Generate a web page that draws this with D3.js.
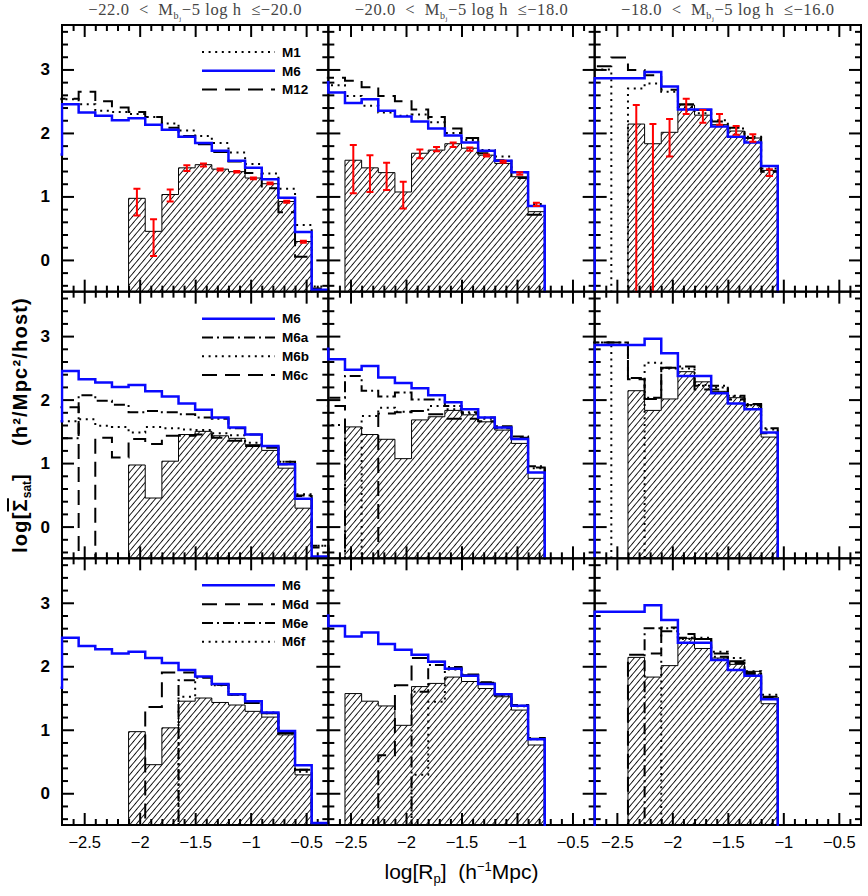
<!DOCTYPE html>
<html>
<head>
<meta charset="utf-8">
<script src="https://cdn.jsdelivr.net/npm/d3@7"></script>
<style>
  body { margin: 0; background: #fff; }
  text { font-family: "Liberation Sans", Arial, sans-serif; }
</style>
</head>
<body>
<div id="chart"></div>
<script>
const N = null;

// bin edges in log(Rp); first bin lies just left of the plotted range
const binEdges = [-2.85, -2.7, -2.55, -2.4, -2.25, -2.1, -1.95, -1.8, -1.65, -1.5,
  -1.35, -1.2, -1.05, -0.9, -0.75, -0.6, -0.45, -0.3];

const titleLo = ["\u221222.0", "\u221220.0", "\u221218.0"];
const titleHi = ["\u221220.0", "\u221218.0", "\u221216.0"];
const xMajor = [-2.5, -2, -1.5, -1, -0.5];
const yMajor = [0, 1, 2, 3];

// observed (hatched) histogram, one array per magnitude column
const obs = [
  [N, N, N, N, N, 0.97, 0.45, 1.03, 1.45, 1.50, 1.43, 1.39, 1.29, 1.20, 0.92, 0.29, N],
  [N, N, 1.57, 1.45, 1.375, 1.07, 1.68, 1.73, 1.83, 1.76, 1.65, 1.52, 1.31, 0.76, N, N, N],
  [N, N, N, 2.14, 1.83, 2.01, 2.44, 2.28, 2.13, 2.03, 1.92, 1.41, N, N, N, N, N]
];
const errLo = [
  [N, N, N, N, N, 0.70, 0.06, 0.92, 1.40, 1.47, 1.41, 1.375, 1.27, 1.19, 0.90, 0.27, N],
  [N, N, 1.05, 1.07, 1.10, 0.81, 1.60, 1.71, 1.78, 1.72, 1.63, 1.53, 1.34, 0.85, N, N, N],
  [N, N, N, -1, -1, 1.63, 2.30, 2.16, 2.13, 1.97, 1.86, 1.32, N, N, N, N, N]
];
const errHi = [
  [N, N, N, N, N, 1.12, 0.64, 1.11, 1.49, 1.52, 1.44, 1.40, 1.30, 1.22, 0.93, 0.30, N],
  [N, N, 1.81, 1.65, 1.53, 1.23, 1.74, 1.78, 1.85, 1.77, 1.66, 1.56, 1.38, 0.90, N, N, N],
  [N, N, N, 2.44, 2.14, 2.22, 2.54, 2.36, 2.30, 2.11, 1.98, 1.43, N, N, N, N, N]
];

// models
const m6 = [
  [1.66, 2.45, 2.32, 2.27, 2.20, 2.23, 2.13, 2.05, 1.94, 1.84, 1.72, 1.56, 1.45, 1.27, 0.98, 0.44, -0.47],
  [2.80, 2.635, 2.47, 2.53, 2.35, 2.26, 2.18, 2.07, 1.96, 1.85, 1.72, 1.56, 1.38, 0.85, N, N, N],
  [N, 2.86, 2.86, 2.86, 2.96, 2.73, 2.37, 2.37, 2.10, 1.94, 1.85, 1.48, N, N, N, N, N]
];
const m1 = [
  [2.53, 2.53, 2.45, 2.35, 2.33, 2.30, 2.25, 2.15, 2.04, 1.95, 1.84, 1.69, 1.51, 1.36, 1.12, 0.55, -0.42],
  [2.75, 2.75, 2.58, 2.43, 2.32, 2.27, 2.29, 2.17, 2.00, 1.89, 1.73, 1.63, 1.38, 0.88, N, N, N],
  [3.00, 3.00, N, 2.70, 2.78, 2.65, 2.41, 2.31, 2.20, 2.07, 1.94, 1.44, N, N, N, N, N]
];
const m12 = [
  [2.54, 2.54, 2.65, 2.50, 2.40, 2.33, 2.25, 2.08, 1.95, 1.82, 1.70, 1.55, 1.37, 1.13, 0.75, 0.05, -0.45],
  [2.87, 2.87, 2.82, 2.72, 2.58, 2.50, 2.37, 2.25, 2.07, 1.92, 1.68, 1.57, 1.29, 0.71, N, N, N],
  [3.05, 3.05, 3.19, 2.99, 2.91, 2.68, 2.45, 2.36, 2.18, 2.08, 1.92, 1.39, N, N, N, N, N]
];
const m6a = [
  [1.39, 1.39, 2.07, 1.98, 1.92, 1.80, 1.82, 1.80, 1.77, 1.72, 1.70, 1.55, 1.45, 1.27, 1.02, 0.49, -0.30],
  [2.03, 2.03, 2.37, 2.14, 2.05, 2.11, 2.00, 2.00, 1.90, 1.80, 1.72, 1.58, 1.42, 0.95, N, N, N],
  [2.90, 2.90, 2.90, 2.34, 2.03, 2.50, 2.52, 2.22, 2.22, 2.06, 1.93, 1.55, N, N, N, N, N]
];
const m6b = [
  [1.66, 1.66, 1.69, 1.59, 1.57, 1.48, 1.57, 1.55, 1.53, 1.52, 1.47, 1.44, 1.32, 1.27, 1.02, 0.51, -0.30],
  [1.60, 1.60, N, 1.74, 1.87, 1.81, 1.82, 1.90, 1.85, 1.78, 1.70, 1.56, 1.38, 0.92, N, N, N],
  [2.90, 2.90, N, N, 2.58, 2.49, 2.49, 2.23, 2.19, 2.05, 1.91, 1.53, N, N, N, N, N]
];
const m6c = [
  [1.88, 1.88, N, 1.40, 1.09, 1.38, 1.30, 1.43, 1.43, 1.45, 1.40, 1.35, 1.27, 1.24, 0.98, 0.48, -0.33],
  [1.90, 1.90, N, N, 1.78, 1.80, 1.82, 1.77, 1.70, 1.70, 1.66, 1.55, 1.40, 0.93, N, N, N],
  [2.90, 2.90, 2.90, 2.32, 2.01, 2.50, 2.37, 2.16, 2.16, 2.00, 1.91, 1.47, N, N, N, N, N]
];
const m6d = [
  [N, N, N, N, N, N, 1.36, 1.90, 1.90, 1.83, 1.71, 1.56, 1.42, 1.26, 0.95, 0.37, N],
  [N, N, N, N, 0.60, 1.70, 2.13, 2.07, 1.97, 1.86, 1.74, 1.55, 1.39, 0.87, N, N, N],
  [N, N, N, 2.18, 2.20, 2.61, 2.51, 2.43, 2.20, 2.08, 1.90, 1.52, N, N, N, N, N]
];
const m6e = [
  [N, N, N, N, N, N, N, N, 1.78, 1.82, 1.71, 1.55, 1.42, 1.26, 0.95, 0.37, N],
  [N, N, N, N, N, N, 1.60, 2.02, 1.99, 1.87, 1.75, 1.56, 1.38, 0.86, N, N, N],
  [N, N, N, N, 2.60, 2.55, 2.45, 2.43, 2.15, 2.05, 1.88, 1.50, N, N, N, N, N]
];
const m6f = [
  [N, N, N, N, N, N, N, N, 1.52, 1.83, 1.70, 1.55, 1.44, 1.27, 0.94, 0.34, N],
  [N, N, N, N, N, N, 0.29, 1.44, 1.95, 1.86, 1.73, 1.54, 1.37, 0.85, N, N, N],
  [N, N, N, N, N, 2.60, 2.43, 2.45, 2.23, 2.13, 1.92, 1.55, N, N, N, N, N]
];

// legend order for each row of panels
const rowSeries = [
  [["M1", "dot", m1], ["M6", "blue", m6], ["M12", "dash", m12]],
  [["M6", "blue", m6], ["M6a", "dashdot", m6a], ["M6b", "dot", m6b], ["M6c", "dash", m6c]],
  [["M6", "blue", m6], ["M6d", "dash", m6d], ["M6e", "dashdot", m6e], ["M6f", "dot", m6f]]
];

const lineStyle = {
  blue:    { stroke: "#0a0aff", width: 2.5, dash: null },
  dot:     { stroke: "#000", width: 2, dash: "2,4.6" },
  dash:    { stroke: "#000", width: 2, dash: "15,8" },
  dashdot: { stroke: "#000", width: 2, dash: "11,4,2,4" }
};

const W = 868, H = 896;
const margin = { top: 25, right: 7, bottom: 71, left: 62 };
const pw = (W - margin.left - margin.right) / 3,
  ph = (H - margin.top - margin.bottom) / 3;

const x = d3.scaleLinear().domain([-2.7, -0.3]).range([0, pw]);
const y = d3.scaleLinear().domain([-0.5, 3.7]).range([ph, 0]);
const floorVal = -1;

const xMinor = x.ticks(24).filter(d => d > -2.69 && d < -0.31 && Math.abs(d * 2 - Math.round(d * 2)) > 1e-6);
const yMinor = y.ticks(21).filter(d => Math.abs(d - Math.round(d)) > 1e-6);

const svg = d3.select("#chart").append("svg")
  .attr("width", W).attr("height", H);

const defs = svg.append("defs");
defs.append("pattern")
  .attr("id", "hatch")
  .attr("patternUnits", "userSpaceOnUse")
  .attr("width", 4.6).attr("height", 10)
  .attr("patternTransform", "rotate(40)")
  .append("line")
  .attr("x1", 2.3).attr("y1", -1).attr("x2", 2.3).attr("y2", 11)
  .attr("stroke", "#000").attr("stroke-width", 0.9);
defs.append("clipPath").attr("id", "clip")
  .append("rect")
  .attr("x", -1.5).attr("y", -1).attr("width", pw + 3).attr("height", ph + 2);

function steps(vals) {
  const pts = [[binEdges[0], floorVal]];
  vals.forEach((v, i) => {
    const yv = v == null ? floorVal : v;
    pts.push([binEdges[i], yv], [binEdges[i + 1], yv]);
  });
  pts.push([binEdges[binEdges.length - 1], floorVal]);
  return pts;
}
const line = d3.line().x(d => x(d[0])).y(d => y(d[1]));

function ticks(g, axis, size, vals, pos) {
  const a = g.append("g")
    .attr("transform", pos)
    .call(axis.tickValues(vals).tickSize(-size).tickFormat(""));
  a.select(".domain").remove();
  a.selectAll("line").attr("stroke", "#000").attr("stroke-width", 2);
}

for (let r = 0; r < 3; r++) {
  for (let c = 0; c < 3; c++) {
    const g = svg.append("g")
      .attr("transform", "translate(" + (margin.left + c * pw) + "," + (margin.top + r * ph) + ")");

    // frame and inward ticks on all four sides
    g.append("rect")
      .attr("width", pw).attr("height", ph)
      .attr("fill", "none").attr("stroke", "#000").attr("stroke-width", 2);
    ticks(g, d3.axisBottom(x), 6, xMinor, "translate(0," + ph + ")");
    ticks(g, d3.axisBottom(x), 12, xMajor, "translate(0," + ph + ")");
    ticks(g, d3.axisTop(x), 6, xMinor, "translate(0,0)");
    ticks(g, d3.axisTop(x), 12, xMajor, "translate(0,0)");
    ticks(g, d3.axisLeft(y), 6, yMinor, "translate(0,0)");
    ticks(g, d3.axisLeft(y), 12, yMajor, "translate(0,0)");
    ticks(g, d3.axisRight(y), 6, yMinor, "translate(" + pw + ",0)");
    ticks(g, d3.axisRight(y), 12, yMajor, "translate(" + pw + ",0)");

    if (r === 2) {
      const ax = g.append("g")
        .attr("transform", "translate(0," + ph + ")")
        .call(d3.axisBottom(x).tickValues(xMajor).tickSize(0).tickPadding(11)
          .tickFormat(d3.format("~g")));
      ax.select(".domain").remove();
      ax.selectAll("text").attr("font-size", 16.5).attr("fill", "#000")
        .style("font-family", "Liberation Sans, sans-serif");
    }
    if (c === 0) {
      const ay = g.append("g")
        .call(d3.axisLeft(y).tickValues(yMajor).tickSize(0).tickPadding(12)
          .tickFormat(d3.format("d")));
      ay.select(".domain").remove();
      ay.selectAll("text").attr("font-size", 17).attr("font-weight", "bold").attr("fill", "#000");
    }

    const plot = g.append("g").attr("clip-path", "url(#clip)");

    // observed histogram
    plot.append("path")
      .attr("d", line(steps(obs[c])) + "Z")
      .attr("fill", "url(#hatch)")
      .attr("stroke", "#000").attr("stroke-width", 1);

    // model histograms: black ones first, blue M6 on top
    const series = rowSeries[r].slice().sort((a, b) => (a[1] === "blue") - (b[1] === "blue"));
    series.forEach(s => {
      const st = lineStyle[s[1]];
      plot.append("path")
        .attr("d", line(steps(s[2][c])))
        .attr("fill", "none")
        .attr("stroke", st.stroke)
        .attr("stroke-width", st.width)
        .attr("stroke-dasharray", st.dash);
    });

    // error bars (top row only)
    if (r === 0) {
      const eb = errLo[c].map((lo, i) => ({ lo: lo, hi: errHi[c][i], xc: (binEdges[i] + binEdges[i + 1]) / 2 }))
        .filter(d => d.lo != null);
      const e = plot.append("g").attr("stroke", "#ff0000").attr("stroke-width", 2);
      e.selectAll(".bar").data(eb).join("line")
        .attr("x1", d => x(d.xc)).attr("x2", d => x(d.xc))
        .attr("y1", d => y(d.lo)).attr("y2", d => y(d.hi));
      e.selectAll(".capHi").data(eb).join("line").attr("class", "capHi")
        .attr("x1", d => x(d.xc) - 3.5).attr("x2", d => x(d.xc) + 3.5)
        .attr("y1", d => y(d.hi)).attr("y2", d => y(d.hi));
      e.selectAll(".capLo").data(eb).join("line").attr("class", "capLo")
        .attr("x1", d => x(d.xc) - 3.5).attr("x2", d => x(d.xc) + 3.5)
        .attr("y1", d => y(d.lo)).attr("y2", d => y(d.lo));
    }

    // legend in left column
    if (c === 0) {
      const lg = g.append("g").attr("transform", "translate(140,27)");
      rowSeries[r].forEach((s, i) => {
        const st = lineStyle[s[1]];
        lg.append("line")
          .attr("x1", 0).attr("x2", 73).attr("y1", i * 18.8).attr("y2", i * 18.8)
          .attr("stroke", st.stroke).attr("stroke-width", st.width)
          .attr("stroke-dasharray", st.dash);
        lg.append("text")
          .attr("x", 80).attr("y", i * 18.8).attr("dy", "0.35em")
          .attr("font-size", 13.5).attr("font-weight", "bold")
          .text(s[0]);
      });
    }

    // column titles
    if (r === 0) {
      const t = svg.append("text")
        .attr("x", margin.left + c * pw + pw / 2).attr("y", 15)
        .attr("text-anchor", "middle")
        .attr("fill", "#444")
        .style("font-family", "Liberation Serif, serif")
        .attr("font-size", 16.5)
        .attr("letter-spacing", 0.6)
        .attr("xml:space", "preserve");
      t.append("tspan").text(titleLo[c] + "  <  M");
      t.append("tspan").attr("font-size", 10).attr("dy", 4).text("b");
      t.append("tspan").attr("font-size", 7).attr("dy", 2).text("j");
      t.append("tspan").attr("dy", -6).text("\u22125 log h  \u2264" + titleHi[c]);
    }
  }
}

// axis titles
const yl = svg.append("text")
  .attr("transform", "translate(27," + (margin.top + 1.5 * ph) + ") rotate(-90)")
  .attr("text-anchor", "middle")
  .attr("font-size", 20).attr("font-weight", "bold")
  .attr("letter-spacing", 1.2)
  .attr("xml:space", "preserve");
yl.append("tspan").text("log[");
yl.append("tspan").style("text-decoration", "overline").text("\u03A3");
yl.append("tspan").attr("font-size", 12).attr("dy", 4).attr("letter-spacing", 0).text("sat");
yl.append("tspan").attr("dy", -4).text("]    (h\u00B2/Mpc\u00B2/host)");

const xl = svg.append("text")
  .attr("x", margin.left + 1.5 * pw).attr("y", 879)
  .attr("text-anchor", "middle")
  .attr("font-size", 21)
  .attr("xml:space", "preserve");
xl.append("tspan").text("log[R");
xl.append("tspan").attr("font-size", 13).attr("dy", 4).text("p");
xl.append("tspan").attr("dy", -4).text("]  (h");
xl.append("tspan").attr("font-size", 13).attr("dy", -8).text("\u22121");
xl.append("tspan").attr("dy", 8).text("Mpc)");
</script>
</body>
</html>
